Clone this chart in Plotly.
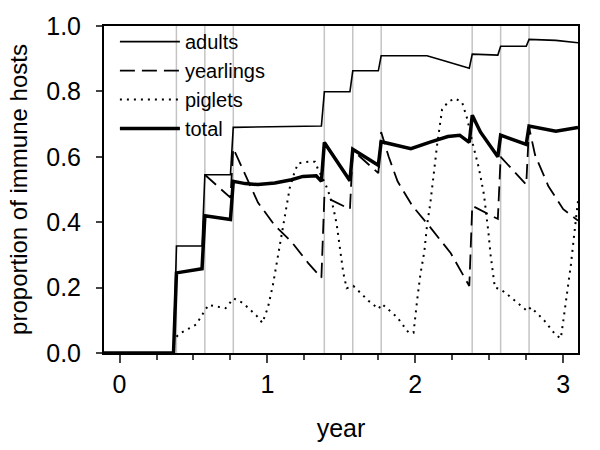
import plotly.graph_objects as go

# ---- data ----
adults_t = [-0.105, 0.365, 0.385, 0.558, 0.577, 0.750, 0.769, 1.000, 1.365, 1.385, 1.558, 1.577,
            1.750, 1.769, 2.079, 2.200, 2.300, 2.365, 2.385, 2.558, 2.577, 2.750, 2.769, 2.950, 3.100]
adults_v = [0.0, 0.0, 0.327, 0.327, 0.545, 0.545, 0.690, 0.691, 0.694, 0.799, 0.799, 0.863,
            0.863, 0.909, 0.909, 0.893, 0.880, 0.871, 0.914, 0.911, 0.938, 0.938, 0.959, 0.956, 0.949]

yearl_t = [0.577, 0.750, 0.769, 0.846, 0.936, 1.050, 1.163, 1.276, 1.365, 1.385, 1.558, 1.577,
           1.750, 1.769, 1.820, 1.880, 1.980, 2.100, 2.240, 2.365, 2.385, 2.558, 2.577, 2.750,
           2.769, 2.810, 2.900, 3.000, 3.100]
yearl_v = [0.545, 0.475, 0.626, 0.550, 0.460, 0.390, 0.340, 0.275, 0.230, 0.478, 0.440, 0.620,
           0.550, 0.676, 0.600, 0.525, 0.450, 0.385, 0.305, 0.205, 0.450, 0.410, 0.600, 0.515,
           0.690, 0.605, 0.510, 0.440, 0.405]

piglet_t = [0.385, 0.409, 0.518, 0.574, 0.601, 0.717, 0.771, 0.834, 0.925, 0.966, 1.004, 1.038,
            1.083, 1.129, 1.151, 1.185, 1.208, 1.276, 1.321, 1.344, 1.389, 1.411, 1.445, 1.468,
            1.491, 1.513, 1.536, 1.581, 1.683, 1.751, 1.774, 1.876, 1.955, 1.988, 2.012, 2.034,
            2.061, 2.079, 2.102, 2.147, 2.181, 2.226, 2.272, 2.317, 2.351, 2.385, 2.430, 2.464,
            2.494, 2.509, 2.538, 2.577, 2.633, 2.679, 2.758, 2.781, 2.871, 2.950, 2.984, 3.007,
            3.030, 3.052, 3.086, 3.104]
piglet_v = [0.050, 0.060, 0.087, 0.130, 0.147, 0.137, 0.167, 0.153, 0.115, 0.092, 0.140, 0.210,
            0.330, 0.455, 0.505, 0.555, 0.580, 0.585, 0.585, 0.560, 0.520, 0.495, 0.445, 0.395,
            0.320, 0.245, 0.198, 0.205, 0.160, 0.135, 0.150, 0.110, 0.062, 0.062, 0.160, 0.240,
            0.310, 0.390, 0.460, 0.635, 0.745, 0.770, 0.778, 0.766, 0.716, 0.646, 0.565, 0.485,
            0.370, 0.300, 0.200, 0.195, 0.175, 0.158, 0.128, 0.140, 0.100, 0.055, 0.045, 0.120,
            0.190, 0.270, 0.410, 0.480]

total_t = [-0.105, 0.365, 0.385, 0.558, 0.577, 0.750, 0.769, 0.850, 0.936, 1.050, 1.163, 1.240,
           1.330, 1.365, 1.385, 1.558, 1.577, 1.750, 1.769, 1.970, 2.100, 2.220, 2.300, 2.365,
           2.385, 2.440, 2.558, 2.577, 2.750, 2.769, 2.950, 3.100]
total_v = [0.0, 0.0, 0.245, 0.258, 0.420, 0.408, 0.525, 0.518, 0.515, 0.520, 0.530, 0.540,
           0.542, 0.525, 0.644, 0.527, 0.623, 0.574, 0.646, 0.625, 0.645, 0.662, 0.666, 0.644,
           0.727, 0.676, 0.600, 0.666, 0.638, 0.694, 0.678, 0.690]

gray_weeks = [20, 30, 40]
years = [0, 1, 2]

x_ticks = [0, 1, 2, 3]
y_ticks = [0.0, 0.2, 0.4, 0.6, 0.8, 1.0]

FONT = "Liberation Sans, Arial, sans-serif"

fig = go.Figure()

fig.add_trace(go.Scatter(x=adults_t, y=adults_v, mode="lines", name="adults",
                         line=dict(color="black", width=1.6)))
fig.add_trace(go.Scatter(x=yearl_t, y=yearl_v, mode="lines", name="yearlings",
                         line=dict(color="black", width=1.8, dash="15px,7px")))
fig.add_trace(go.Scatter(x=piglet_t, y=piglet_v, mode="lines", name="piglets",
                         line=dict(color="black", width=2, dash="2px,5px")))
fig.add_trace(go.Scatter(x=total_t, y=total_v, mode="lines", name="total",
                         line=dict(color="black", width=3.5)))

for yr in years:
    for w in gray_weeks:
        xv = yr + w / 52
        fig.add_shape(type="line", x0=xv, x1=xv, y0=0, y1=1, xref="x", yref="y",
                      line=dict(color="#c4c4c4", width=1.5), layer="below")

fig.update_layout(
    width=600, height=450,
    margin=dict(l=104, r=22, t=22, b=95),
    paper_bgcolor="white", plot_bgcolor="white",
    font=dict(family=FONT, color="black", size=25),
    showlegend=True,
    legend=dict(x=0.023, y=1.012, xanchor="left", yanchor="top", bgcolor="rgba(0,0,0,0)",
                font=dict(size=20), itemwidth=60),
    xaxis=dict(range=[-0.105, 3.1], tickvals=x_ticks, ticks="outside", ticklen=8, tickwidth=2,
               showline=True, linewidth=2, linecolor="black", mirror=True, showgrid=False,
               zeroline=False, tickfont=dict(size=25),
               minor=dict(dtick=0.25, tick0=0, ticks="outside", ticklen=5, tickwidth=2,
                          showgrid=False),
               title=dict(text="year", font=dict(size=25), standoff=22)),
    yaxis=dict(range=[0, 1.0], tickvals=y_ticks, tickformat=".1f", ticks="outside", ticklen=6,
               tickwidth=2, showline=True, linewidth=2, linecolor="black", mirror=True,
               showgrid=False, zeroline=False, tickfont=dict(size=25), ticklabelstandoff=10,
               title=dict(text="proportion of immune hosts", font=dict(size=24), standoff=12)),
)

fig.write_html("out.html", config={"displayModeBar": False},
               post_script="document.body.style.margin='0';")
